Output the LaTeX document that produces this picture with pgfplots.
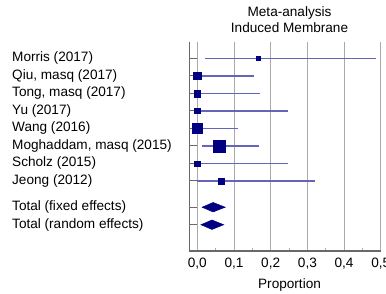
\documentclass[border=0pt]{standalone}
\usepackage{pgfplots}
\pgfplotsset{compat=1.18}
\usepackage{pgfplotstable}
\usepackage{fontspec}
\setmainfont{Liberation Sans}
\definecolor{navy}{RGB}{0,0,128}
\definecolor{cibl}{RGB}{100,100,185}
\definecolor{gridgray}{RGB}{170,170,170}
\definecolor{axgray}{RGB}{105,105,105}
\newcommand{\fs}{\fontsize{13.6bp}{16bp}\selectfont}

\pgfplotstableread{
y    est    lo     hi     s
1    0.166  0.021  0.486  2.3
2    0.000  0.000  0.155  3.8
3    0.000  0.000  0.170  3.3
4    0.000  0.000  0.248  2.7
5    0.000  0.000  0.110  4.8
6    0.060  0.012  0.167  6.0
7    0.000  0.000  0.248  2.7
8    0.066  0.000  0.321  2.9
}\studies

\begin{document}
\begin{tikzpicture}
\useasboundingbox (-189.3bp,-43bp) rectangle (196.7bp,251bp);
\begin{axis}[
  at={(0,0)}, anchor=south west,
  scale only axis,
  width=191.5bp, height=209.3bp,
  xmin=-0.0218, xmax=0.5,
  ymin=0.05, ymax=12,
  y dir=reverse,
  axis x line*=bottom, axis y line*=left,
  axis line style={-, axgray, line width=1.1bp},
  xtick={0,0.1,0.2,0.3,0.4,0.5},
  minor x tick num=1,
  ytick={1,2,3,4,5,6,7,8,9.5,10.5},
  yticklabels={Morris (2017),{Qiu, masq (2017)},{Tong, masq (2017)},Yu (2017),Wang (2016),{Moghaddam, masq (2015)},Scholz (2015),Jeong (2012),Total (fixed effects),Total (random effects)},
  tick align=inside,
  major tick length=8bp, minor tick length=3bp,
  xtick style={gridgray, line width=0.9bp},
  ytick style={axgray, line width=1bp},
  xmajorgrids,
  grid style={gridgray, line width=0.9bp},
  xticklabel style={font=\fs, yshift=-3bp},
  yticklabel style={font=\fs, anchor=west, inner sep=0pt, xshift=-177.3bp},
  xlabel={Proportion},
  every axis x label/.style={at={(axis description cs:0.5,0)}, anchor=center, yshift=-34bp, xshift=4.5bp, font=\fs},
  title={Meta-analysis\\Induced Membrane},
  title style={at={(axis description cs:0.5,1)}, anchor=center, yshift=16.5bp, xshift=4.5bp, align=center, font=\fs},
  clip=false,
  /pgf/number format/.cd, use comma, fixed, fixed zerofill, precision=1, assume math mode=true,
]
% confidence intervals
\addplot[only marks, mark=none,
  error bars/.cd, x dir=both, x explicit, error mark=none,
  error bar style={cibl, line width=1.45bp}]
  table[x=est, y=y,
    x error plus expr=\thisrow{hi}-\thisrow{est},
    x error minus expr=\thisrow{est}-\thisrow{lo}] \studies;
% point estimates
\addplot[scatter, only marks, mark=square*,
  mark options={line width=0.3bp},
  scatter/use mapped color={draw=navy, fill=navy},
  visualization depends on={\thisrow{s} \as \ms},
  scatter/@pre marker code/.append style={/tikz/mark size=\ms}]
  table[x=est, y=y] \studies;
% pooled estimates
\addplot[fill=navy, draw=navy, line width=0.5bp]
  coordinates {(0.013,9.5) (0.043,9.23) (0.076,9.5) (0.043,9.77)} -- cycle;
\addplot[fill=navy, draw=navy, line width=0.5bp]
  coordinates {(0.010,10.5) (0.040,10.23) (0.072,10.5) (0.040,10.77)} -- cycle;
\end{axis}
\end{tikzpicture}
\end{document}
